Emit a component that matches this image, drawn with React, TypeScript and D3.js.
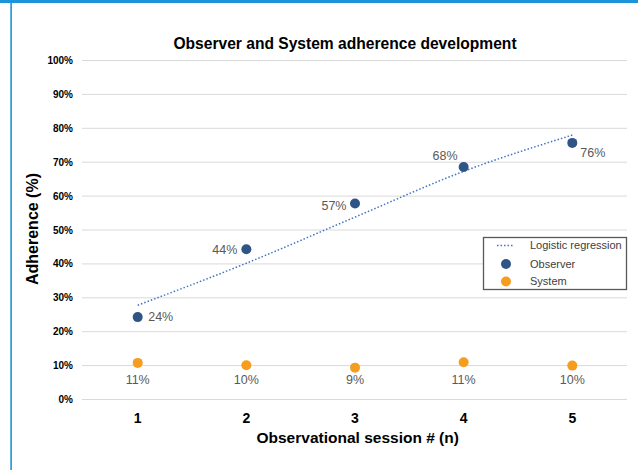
import React from "react";
import * as d3 from "d3";

const sessions = ["1", "2", "3", "4", "5"];
const observer = [24.3, 44.3, 57.8, 68.6, 75.7];
const observerLabels = ["24%", "44%", "57%", "68%", "76%"];
const system = [10.8, 10.1, 9.4, 11.0, 10.0];
const systemLabels = ["11%", "10%", "9%", "11%", "10%"];
const regression = [27.8, 40.2, 53.8, 67.3, 78.0];
const yTicks = [0, 10, 20, 30, 40, 50, 60, 70, 80, 90, 100];
const legendItems = ["Logistic regression", "Observer", "System"];

const W = 638;
const H = 470;
const FONT = "'Liberation Sans', Arial, Helvetica, sans-serif";
const OBS = "#2F5586";
const SYS = "#F59D1E";
const REG = "#4472C4";
const GRID = "#D9D9D9";
const LABEL = "#595959";
const FRAME = "#1C94DA";

// label offsets per observer point: [dx, dy, anchor]
const obsLabelPos: [number, number, string][] = [
  [10.5, 0, "start"],
  [-9, 0, "end"],
  [-8.5, 2, "end"],
  [-6, -11, "end"],
  [8, 10, "start"],
];

export default function App() {
  const x = d3.scalePoint<string>().domain(sessions).range([137.7, 572.3]);
  const y = d3.scaleLinear().domain([0, 100]).range([399.5, 60.5]);
  const gridX0 = 82;
  const gridX1 = 627;

  const regLine = d3
    .line<number>()
    .x((_, i) => x(sessions[i]) as number)
    .y((d) => y(d))
    .curve(d3.curveMonotoneX);

  const lg = { x: 483.5, y: 237.5, w: 143, h: 52 };
  const lgRows = [245.5, 264, 281.5];

  return (
    <svg
      width={W}
      height={H}
      style={{ position: "absolute", left: 0, top: 0, background: "#fff" }}
      fontFamily={FONT}
    >
      <rect x={0} y={0} width={W} height={H} fill="#fff" />
      {/* frame */}
      <rect x={0} y={0} width={W} height={3} fill={FRAME} />
      <rect x={10.3} y={0} width={1.6} height={H} fill={FRAME} />

      {/* title */}
      <text x={345} y={49.3} textAnchor="middle" fontSize={15.6} fontWeight="bold" fill="#000">
        Observer and System adherence development
      </text>

      {/* gridlines and y ticks */}
      {yTicks.map((t) => (
        <g key={t}>
          <line x1={gridX0} x2={gridX1} y1={y(t)} y2={y(t)} stroke={GRID} strokeWidth={1} />
          <text x={73} y={y(t)} dy="0.35em" textAnchor="end" fontSize={10} fontWeight="bold" fill="#000">
            {t}%
          </text>
        </g>
      ))}

      {/* axis titles */}
      <text
        transform={`translate(37.5,229) rotate(-90)`}
        textAnchor="middle"
        fontSize={16}
        fontWeight="bold"
        fill="#000"
      >
        Adherence (%)
      </text>
      <text x={357.7} y={443} textAnchor="middle" fontSize={15.5} fontWeight="bold" fill="#000">
        Observational session # (n)
      </text>

      {/* x ticks */}
      {sessions.map((s) => (
        <text key={s} x={x(s)} y={423} textAnchor="middle" fontSize={14} fontWeight="bold" fill="#000">
          {s}
        </text>
      ))}

      {/* regression line */}
      <path
        d={regLine(regression) || ""}
        fill="none"
        stroke={REG}
        strokeWidth={1.5}
        strokeDasharray="1.5,2"
      />

      {/* observer points */}
      {observer.map((v, i) => (
        <g key={"o" + i}>
          <circle cx={x(sessions[i])} cy={y(v)} r={5} fill={OBS} />
          <text
            x={(x(sessions[i]) as number) + obsLabelPos[i][0]}
            y={y(v) + obsLabelPos[i][1]}
            dy="0.35em"
            textAnchor={obsLabelPos[i][2] as any}
            fontSize={12.5}
            fill={LABEL}
          >
            {observerLabels[i]}
          </text>
        </g>
      ))}

      {/* system points */}
      {system.map((v, i) => (
        <g key={"s" + i}>
          <circle cx={x(sessions[i])} cy={y(v)} r={5} fill={SYS} />
          <text
            x={x(sessions[i])}
            y={380}
            dy="0.35em"
            textAnchor="middle"
            fontSize={12.5}
            fill={LABEL}
          >
            {systemLabels[i]}
          </text>
        </g>
      ))}

      {/* legend */}
      <rect x={lg.x} y={lg.y} width={lg.w} height={lg.h} fill="#fff" stroke="#595959" strokeWidth={1.3} />
      <line
        x1={497}
        x2={514}
        y1={lgRows[0]}
        y2={lgRows[0]}
        stroke={REG}
        strokeWidth={1.5}
        strokeDasharray="1.5,2"
      />
      <circle cx={506} cy={lgRows[1]} r={5} fill={OBS} />
      <circle cx={506} cy={lgRows[2]} r={5} fill={SYS} />
      {legendItems.map((t, i) => (
        <text key={t} x={530} y={lgRows[i]} dy="0.35em" fontSize={11} fill="#404040">
          {t}
        </text>
      ))}
    </svg>
  );
}
